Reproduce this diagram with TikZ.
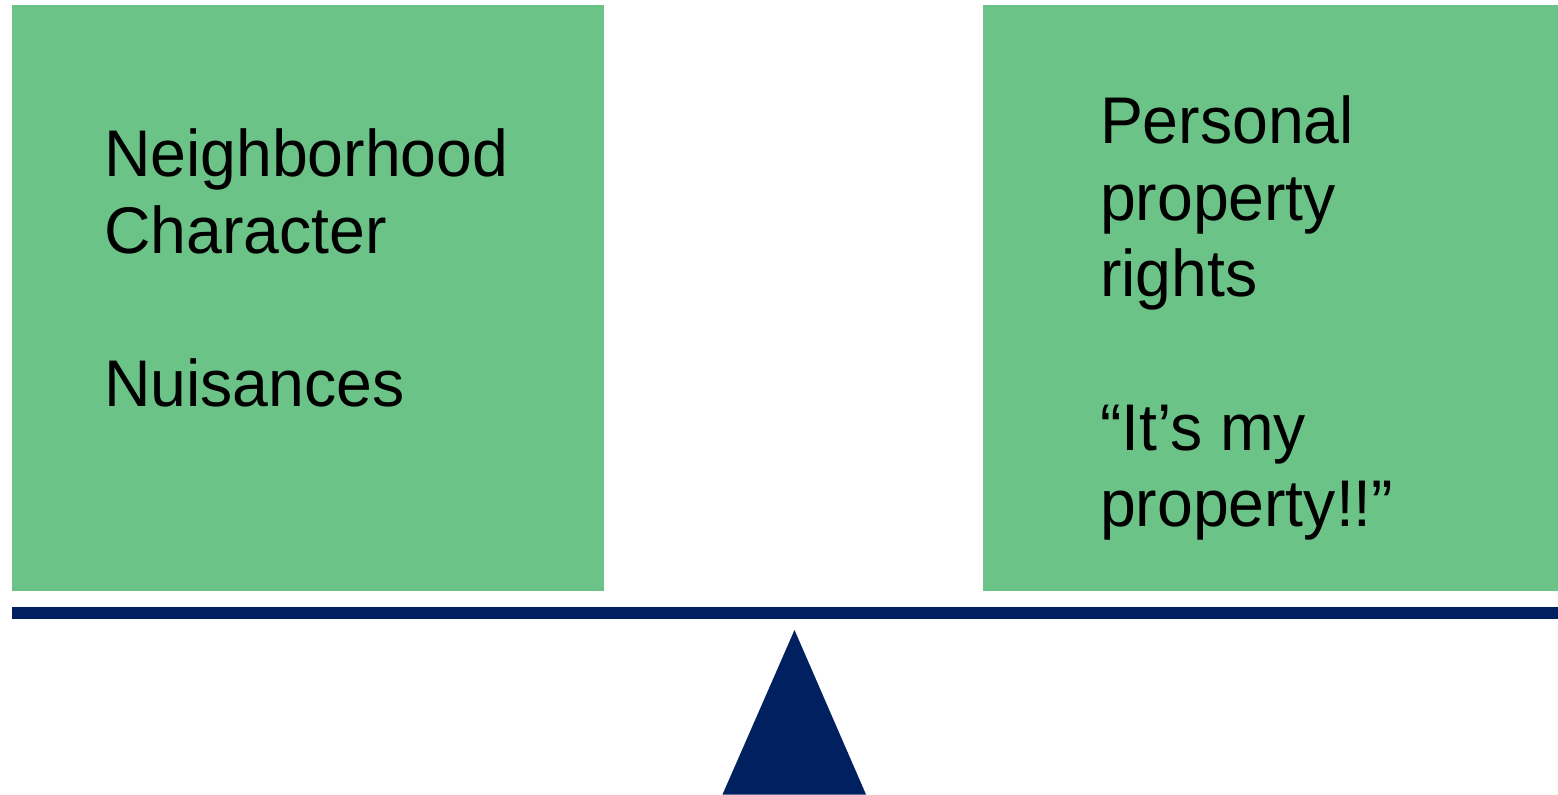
\documentclass[tikz,border=0pt]{standalone}
\usepackage{fontspec}
\setmainfont{Liberation Sans}[FakeStretch=0.975]
\definecolor{boxgreen}{HTML}{6CC387}
\definecolor{navy}{HTML}{002060}
\begin{document}
\begin{tikzpicture}[x=1pt,y=-1pt,
  box/.style={fill=boxgreen, draw=none, anchor=north west, inner sep=0pt, outer sep=0pt},
  beambar/.style={fill=navy, draw=none, anchor=north west, inner sep=0pt, outer sep=0pt},
  txt/.style={anchor=base west, inner sep=0pt, outer sep=0pt, text=black, font=\fontsize{66pt}{77pt}\selectfont}]
\useasboundingbox (0,0) rectangle (1558,795);
% boxes
\node[box, minimum width=592pt, minimum height=586pt] (leftbox) at (12,5) {};
\node[box, minimum width=575pt, minimum height=586pt] (rightbox) at (983,5) {};
% beam
\node[beambar, minimum width=1546pt, minimum height=12pt] (beam) at (12,607) {};
% fulcrum
\fill[navy] (794.5,630) -- (866,794.5) -- (722.5,794.5) -- cycle;
% left texts
\node[txt] (l1) at (104,176.7) {Neighborhood};
\node[txt] (l2) at (104,253.3) {Character};
\node[txt] (l3) at (104,406.7) {Nuisances};
% right texts
\node[txt] (r1) at (1100,143.3) {Personal};
\node[txt] (r2) at (1100,220) {property};
\node[txt] (r3) at (1100,296.7) {rights};
\node[txt] (r4) at (1100,450) {“It’s my};
\node[txt] (r5) at (1100,526.7) {property!!”};
\end{tikzpicture}
\end{document}
